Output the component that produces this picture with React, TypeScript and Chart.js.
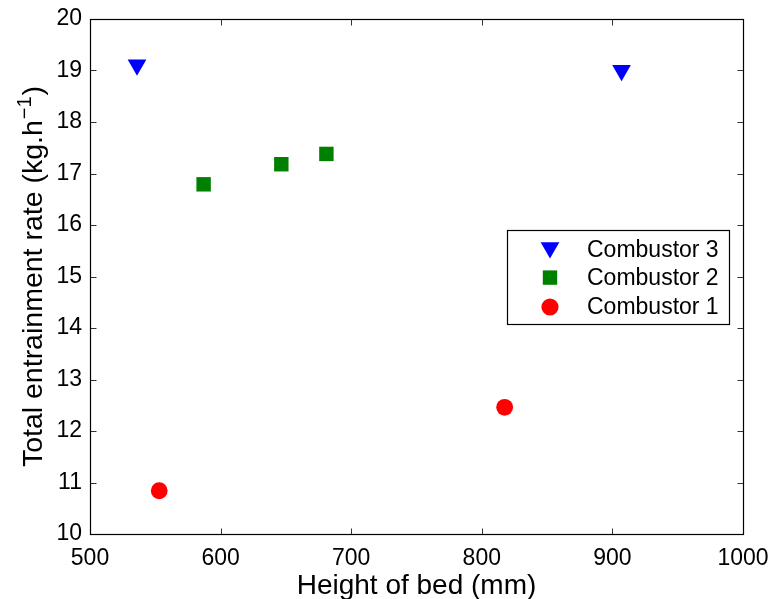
import React, { useEffect, useRef } from 'react';
import { Chart, registerables } from 'chart.js';

Chart.register(...registerables);

const FONT = '"Liberation Sans", Arial, Helvetica, sans-serif';

const seriesNames = ['Combustor 3', 'Combustor 2', 'Combustor 1'];
const combustor3X = [536, 907];
const combustor3Y = [19.11, 19.0];
const combustor2X = [587, 646.5, 681];
const combustor2Y = [16.79, 17.18, 17.38];
const combustor1X = [553, 817.5];
const combustor1Y = [10.84, 12.46];
const xTickValues = [500, 600, 700, 800, 900, 1000];
const yTickValues = [10, 11, 12, 13, 14, 15, 16, 17, 18, 19, 20];
const xTitle = 'Height of bed (mm)';
const yTitleMain = 'Total entrainment rate (kg.h';
const yTitleSup = '\u22121';
const yTitleEnd = ')';

const COLORS = ['#0000ff', '#008000', '#ff0000'];

function pts(xs: number[], ys: number[]) {
  return xs.map((x, i) => ({ x, y: ys[i] }));
}

function drawMarker(ctx: CanvasRenderingContext2D, kind: number, x: number, y: number) {
  ctx.fillStyle = COLORS[kind];
  ctx.beginPath();
  if (kind === 0) {
    const r = 10.8;
    ctx.moveTo(x, y + r);
    ctx.lineTo(x - r * Math.sin(Math.PI / 3), y - r / 2);
    ctx.lineTo(x + r * Math.sin(Math.PI / 3), y - r / 2);
    ctx.closePath();
  } else if (kind === 1) {
    const s = 7.2;
    ctx.rect(x - s, y - s, 2 * s, 2 * s);
  } else {
    ctx.arc(x, y, 8.6, 0, Math.PI * 2);
  }
  ctx.fill();
}

const decorPlugin = {
  id: 'matlabDecor',
  afterDraw(chart: any) {
    const ctx: CanvasRenderingContext2D = chart.ctx;
    const ca = chart.chartArea;
    const xs = chart.scales.x;
    const ys = chart.scales.y;
    ctx.save();
    // inside ticks
    ctx.strokeStyle = '#333';
    ctx.lineWidth = 1;
    const L = Math.round(ca.left) + 0.5;
    const R = Math.round(ca.right) + 0.5;
    const T = Math.round(ca.top) + 0.5;
    const B = Math.round(ca.bottom) + 0.5;
    ctx.beginPath();
    xTickValues.forEach((v) => {
      const px = Math.round(xs.getPixelForValue(v)) + 0.5;
      ctx.moveTo(px, B);
      ctx.lineTo(px, B - 6);
      ctx.moveTo(px, T);
      ctx.lineTo(px, T + 6);
    });
    yTickValues.forEach((v) => {
      const py = Math.round(ys.getPixelForValue(v)) + 0.5;
      ctx.moveTo(L, py);
      ctx.lineTo(L + 6, py);
      ctx.moveTo(R, py);
      ctx.lineTo(R - 6, py);
    });
    ctx.stroke();
    // box
    ctx.strokeStyle = '#000';
    ctx.lineWidth = 1.2;
    ctx.strokeRect(L, T, R - L, B - T);

    // axis titles
    ctx.fillStyle = '#000';
    ctx.font = `28px ${FONT}`;
    ctx.textAlign = 'center';
    ctx.textBaseline = 'alphabetic';
    ctx.fillText(xTitle, (ca.left + ca.right) / 2, 594);

    ctx.save();
    const cy = (ca.top + ca.bottom) / 2;
    ctx.translate(41.5, cy);
    ctx.rotate(-Math.PI / 2);
    ctx.textAlign = 'left';
    ctx.font = `28.5px ${FONT}`;
    const w1 = ctx.measureText(yTitleMain).width;
    const w3 = ctx.measureText(yTitleEnd).width;
    ctx.font = `20px ${FONT}`;
    const w2 = ctx.measureText(yTitleSup).width;
    const total = w1 + w2 + w3 + 2;
    let sx = -total / 2;
    ctx.font = `28.5px ${FONT}`;
    ctx.fillText(yTitleMain, sx, 0);
    sx += w1 + 1;
    ctx.font = `20px ${FONT}`;
    ctx.fillText(yTitleSup, sx, -11);
    sx += w2 + 1;
    ctx.font = `28.5px ${FONT}`;
    ctx.fillText(yTitleEnd, sx, 0);
    ctx.restore();

    // legend
    const lx = 507.5, ly = 230.5, lw = 222, lh = 94;
    ctx.fillStyle = '#fff';
    ctx.fillRect(lx, ly, lw, lh);
    ctx.strokeStyle = '#000';
    ctx.lineWidth = 1.2;
    ctx.strokeRect(lx, ly, lw, lh);
    const rowCenters = [248.5, 277, 305.5];
    const markerY = [247.6, 277.6, 307];
    ctx.font = `23px ${FONT}`;
    ctx.textAlign = 'left';
    ctx.textBaseline = 'alphabetic';
    seriesNames.forEach((name, i) => {
      drawMarker(ctx, i, 550, markerY[i]);
      ctx.fillStyle = '#000';
      ctx.fillText(name, 587, rowCenters[i] + 8.2);
    });
    ctx.restore();
  },
};

export default function App() {
  const ref = useRef<HTMLCanvasElement | null>(null);
  useEffect(() => {
    if (!ref.current) return;
    const chart = new Chart(ref.current, {
      type: 'scatter',
      data: {
        datasets: [
          {
            label: seriesNames[0],
            data: pts(combustor3X, combustor3Y),
            backgroundColor: COLORS[0],
            borderColor: COLORS[0],
            pointStyle: 'triangle',
            pointRotation: 180,
            pointRadius: 10.8,
            pointBorderWidth: 0,
          },
          {
            label: seriesNames[1],
            data: pts(combustor2X, combustor2Y),
            backgroundColor: COLORS[1],
            borderColor: COLORS[1],
            pointStyle: 'rect',
            pointRadius: 10.2,
            pointBorderWidth: 0,
          },
          {
            label: seriesNames[2],
            data: pts(combustor1X, combustor1Y),
            backgroundColor: COLORS[2],
            borderColor: COLORS[2],
            pointStyle: 'circle',
            pointRadius: 8.4,
            pointBorderWidth: 0,
          },
        ],
      },
      options: {
        animation: false,
        responsive: false,
        devicePixelRatio: 1,
        layout: { padding: { top: 19, right: 30, left: 0, bottom: 0 } },
        plugins: { legend: { display: false }, tooltip: { enabled: false } },
        scales: {
          x: {
            type: 'linear',
            min: 500,
            max: 1000,
            afterBuildTicks: (s: any) => {
              s.ticks = xTickValues.map((v) => ({ value: v }));
            },
            afterFit: (s: any) => {
              s.height = 65;
              s.paddingLeft = 0;
              s.paddingRight = 0;
            },
            grid: { display: false, drawTicks: false },
            border: { display: false },
            ticks: {
              color: '#000',
              font: { family: FONT, size: 23 },
              padding: 11,
              maxRotation: 0,
              autoSkip: false,
              callback: (v: any) => String(v),
            },
          },
          y: {
            type: 'linear',
            min: 10,
            max: 20,
            afterBuildTicks: (s: any) => {
              s.ticks = yTickValues.map((v) => ({ value: v }));
            },
            afterFit: (s: any) => {
              s.width = 90;
              s.paddingTop = 0;
              s.paddingBottom = 0;
            },
            grid: { display: false, drawTicks: false },
            border: { display: false },
            ticks: {
              color: '#000',
              font: { family: FONT, size: 23 },
              padding: 8,
              autoSkip: false,
              callback: (v: any) => String(v),
            },
          },
        },
      },
      plugins: [decorPlugin],
    });
    return () => chart.destroy();
  }, []);
  return (
    <div style={{ position: 'fixed', left: 0, top: 0, width: 773, height: 599, background: '#fff' }}>
      <canvas ref={ref} width={773} height={599} style={{ display: 'block', width: 773, height: 599 }} />
    </div>
  );
}
